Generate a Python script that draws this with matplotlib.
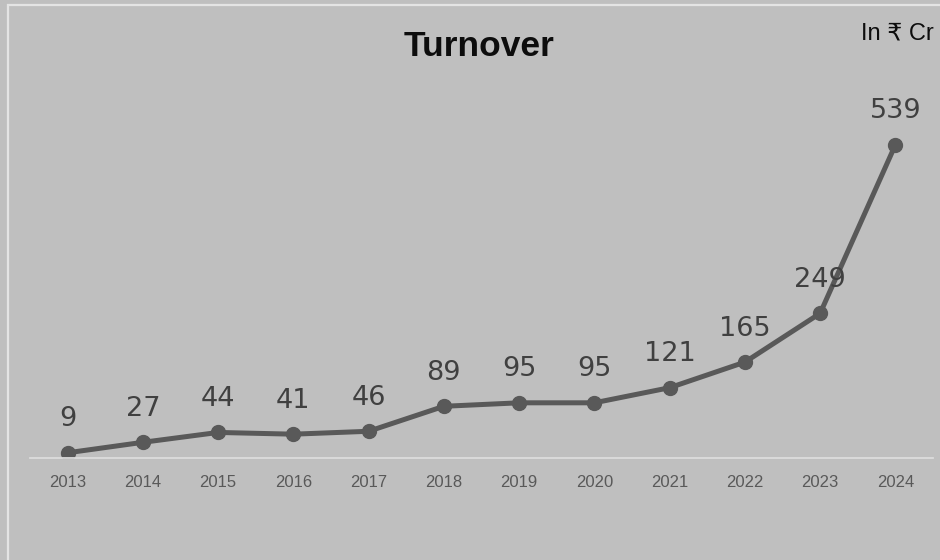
import matplotlib.pyplot as plt
from matplotlib.patches import Rectangle

years = ['2013', '2014', '2015', '2016', '2017', '2018',
         '2019', '2020', '2021', '2022', '2023', '2024']
turnover = [9, 27, 44, 41, 46, 89, 95, 95, 121, 165, 249, 539]

W, H = 940, 560
bg = '#bfbfbf'
fig = plt.figure(figsize=(W / 100, H / 100), dpi=100, facecolor=bg)

# light frame of the chart box (only top/left edge visible in the crop)
fig.patches.append(Rectangle((8 / W, -0.1), 1.2, 1.1 - 5 / H, transform=fig.transFigure,
                             fill=False, edgecolor='#e4e4e4', linewidth=1.6))

# plot area: value 0 sits at y=458px, 539 at y=145px
ax = fig.add_axes([30 / W, (H - 458) / H, (933 - 30) / W, 0.581 * 600 / H])
ax.set_facecolor('none')
x = list(range(len(years)))
ax.plot(x, turnover, color='#595959', linewidth=3.6, marker='o', markersize=10,
        solid_capstyle='round')
for xi, v in zip(x, turnover):
    ax.annotate(str(v), (xi, v), xytext=(0, 19), textcoords='offset points',
                ha='center', va='baseline', fontsize=19.5, color='#404040',
                family='DejaVu Sans')

ax.set_xlim(-0.5, 11.5)
ax.set_ylim(0, 600)
ax.set_xticks(x)
ax.set_xticklabels(years, family='Liberation Sans', fontsize=12, color='#595959')
ax.tick_params(axis='x', length=0, pad=12)
ax.set_yticks([])
for s in ['top', 'left', 'right']:
    ax.spines[s].set_visible(False)
ax.spines['bottom'].set_color('#dcdcdc')
ax.spines['bottom'].set_linewidth(1.3)

fig.text(479 / W, 1 - 46 / H, 'Turnover', ha='center', va='center',
         fontsize=25.5, fontweight='bold', color='#0d0d0d', family='Liberation Sans')
fig.text(934 / W, 1 - 40 / H, 'In ₹ Cr', ha='right', va='baseline', fontsize=17,
         color='#0d0d0d', family=['Liberation Sans', 'DejaVu Sans'])

fig.savefig('out.png', dpi=100, facecolor=bg)
